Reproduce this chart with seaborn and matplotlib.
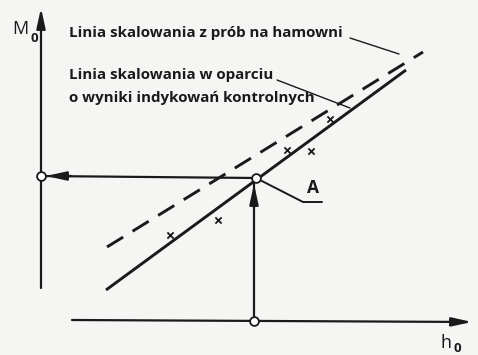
import matplotlib
matplotlib.use("Agg")
import matplotlib.pyplot as plt
import seaborn as sns
import pandas as pd

sns.set_theme(style="white")
plt.rcParams["font.family"] = ["Open Sans", "DejaVu Sans"]

# Calibration lines (h_o on x, M_o on y, arbitrary units)
h_bench = [6.5, 36.5]          # scaling line from test-bench runs (solid)
m_bench = [3.1, 25.1]
h_indic = [6.6, 38.2]          # scaling line from control indications (dashed)
m_indic = [7.4, 26.9]

# Control indication results (crosses)
h_points = [12.9, 17.7, 24.6, 27.0, 28.9]
m_points = [8.6, 10.1, 17.1, 17.0, 20.2]

# Reading point A
h_A = 21.5
m_A = 14.3

label_bench = "Linia skalowania z prób na hamowni"
label_indic = ["Linia skalowania w oparciu", "o wyniki indykowań kontrolnych"]

bench = pd.DataFrame({"h": h_bench, "M": m_bench})
indic = pd.DataFrame({"h": h_indic, "M": m_indic})
pts = pd.DataFrame({"h": h_points, "M": m_points})

BG = "#f5f5f3"
INK = "#1a1a1a"
FS = 10.9

fig = plt.figure(figsize=(4.78, 3.55), dpi=100, facecolor=BG)
ax = fig.add_axes([0, 0, 1, 1])
ax.set_facecolor(BG)
ax.set_xlim(-4.1, 43.7)
ax.set_ylim(-3.4, 32.1)
ax.axis("off")

sns.lineplot(data=bench, x="h", y="M", ax=ax, color=INK, lw=2.1,
             solid_capstyle="butt")
sns.lineplot(data=indic, x="h", y="M", ax=ax, color=INK, lw=2.1,
             dashes=False, linestyle=(0, (6.5, 3.8)))
sns.scatterplot(data=pts, x="h", y="M", ax=ax, marker="x", color=INK,
                s=20, linewidth=1.3, zorder=5)

# Axes of the diagram
arrow_kw = dict(arrowstyle="-|>,head_length=1.0,head_width=0.22",
                color=INK, lw=1.6, shrinkA=0, shrinkB=0)
ax.annotate("", xy=(0, 31.3), xytext=(0, 3.3), arrowprops=arrow_kw)
ax.annotate("", xy=(43.1, -0.1), xytext=(3.1, 0.1), arrowprops=arrow_kw)

# Reading construction: from h_o up to A, then across to M_o
ax.plot([h_A - 0.2, h_A - 0.2], [0, m_A], color=INK, lw=1.6)
ax.annotate("", xy=(h_A - 0.2, m_A - 0.6), xytext=(h_A - 0.2, m_A - 3.0),
            arrowprops=arrow_kw)
ax.plot([0, h_A], [m_A + 0.2, m_A], color=INK, lw=1.6)
ax.annotate("", xy=(0.5, m_A + 0.2), xytext=(3.0, m_A + 0.2),
            arrowprops=arrow_kw)

ax.scatter([0, h_A - 0.2, h_A], [m_A + 0.2, 0, m_A], s=40, facecolor="white",
           edgecolor=INK, linewidth=1.3, zorder=6)

# Label A with leader
ax.plot([h_A, 26.2, 28.1], [m_A, 11.9, 11.9], color=INK, lw=1.4)
ax.text(27.2, 12.4, "A", fontsize=12.5, fontweight="bold", color=INK,
        ha="center", va="bottom")

# Text labels with leaders
ax.text(2.8, 28.8, label_bench, fontsize=FS, fontweight="bold",
        color=INK, ha="left", va="center")
ax.plot([30.9, 35.8], [28.3, 26.7], color=INK, lw=1.0)
ax.text(2.8, 24.6, label_indic[0], fontsize=FS, fontweight="bold",
        color=INK, ha="left", va="center")
ax.text(2.8, 22.3, label_indic[1], fontsize=FS, fontweight="bold",
        color=INK, ha="left", va="center")
ax.plot([23.6, 30.9], [24.1, 21.3], color=INK, lw=1.0)

# Axis names
ax.text(-2.9, 28.7, "M", fontsize=13, color=INK, ha="left", va="baseline")
ax.text(-1.05, 27.9, "0", fontsize=9.5, fontweight="bold", color=INK,
        ha="left", va="baseline")
ax.text(40.0, -2.7, "h", fontsize=13, color=INK, ha="left", va="baseline")
ax.text(41.3, -3.1, "0", fontsize=9.5, fontweight="bold", color=INK,
        ha="left", va="baseline")

fig.savefig("out.png", dpi=100, facecolor=BG)
